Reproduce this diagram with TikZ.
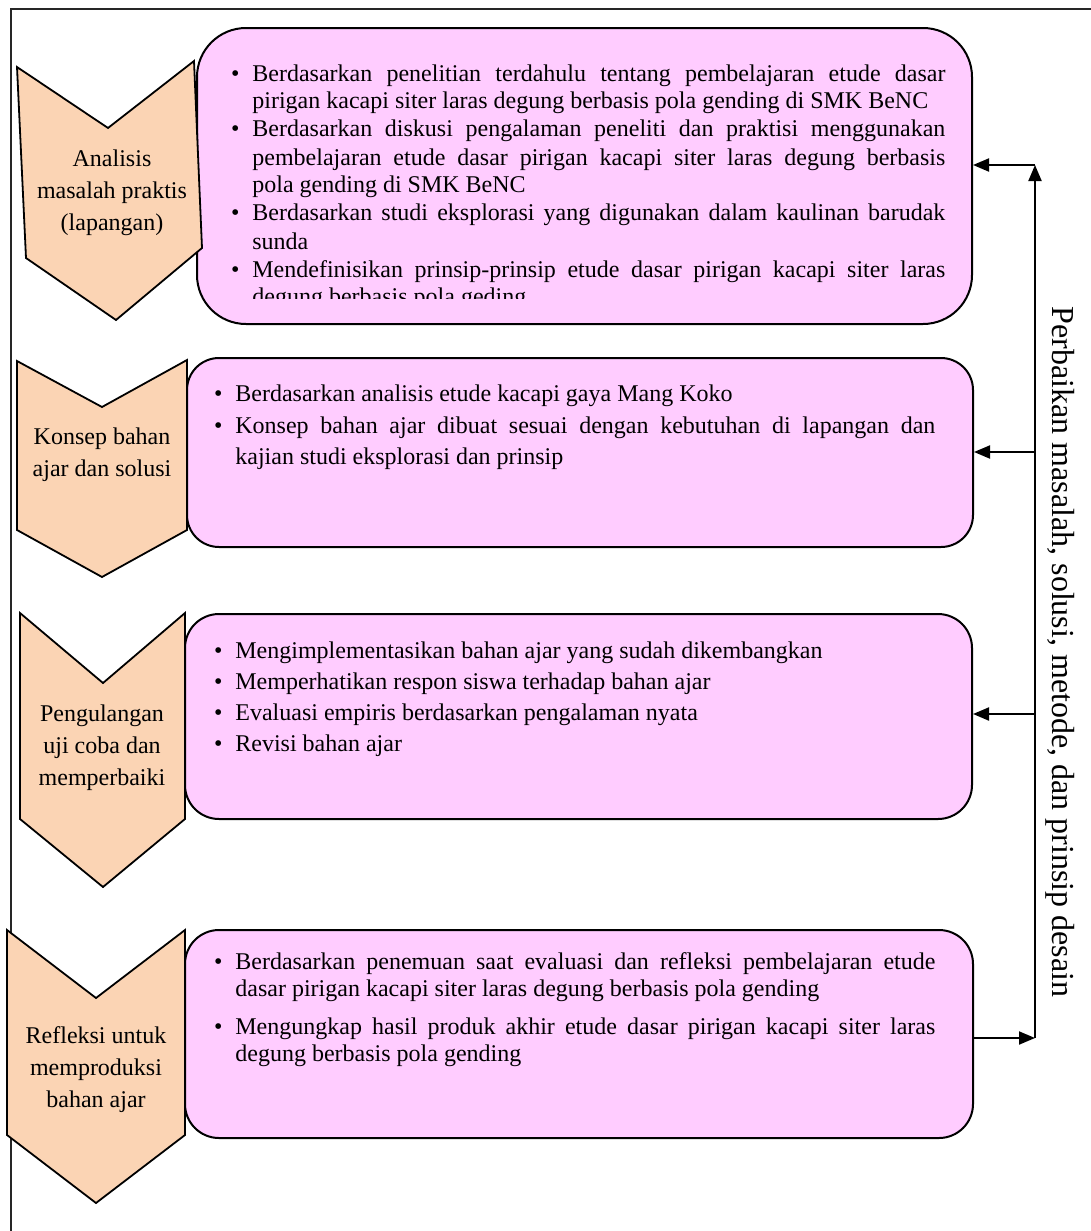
\documentclass[tikz,border=0pt]{standalone}
\usepackage{fontspec}
\setmainfont{Liberation Serif}
\usetikzlibrary{fit,arrows.meta}
\definecolor{pinkfill}{HTML}{FFCCFF}
\definecolor{peach}{HTML}{FBD4B4}
\newcommand\bitem{\par\noindent\llap{\textbullet\hspace{6.5pt}}}
\newcommand\parset{\tolerance=10000\hyphenpenalty=10000\exhyphenpenalty=10000\parindent=0pt\parskip=0pt}
\begin{document}
\begin{tikzpicture}[x=0.5pt,y=-0.5pt,
  pinkbox/.style={draw=black, line width=1pt, fill=pinkfill, inner sep=0pt},
  chev/.style={draw=black, line width=0.9pt, fill=peach, line join=miter},
  chevtext/.style={align=center, font=\fontsize{12}{16}\selectfont, inner sep=0pt},
  bodytxt/.style={anchor=north west, inner sep=0pt, align=justify, text width=#1},
  arr/.style={line width=1pt, -{Triangle[length=8pt,width=6.5pt]}},
]
\useasboundingbox (0,0) rectangle (1091,1231);
% frame
\draw[line width=0.9pt, black!85] (11,1231) -- (11,9) -- (1091,9);

% boxes
\node[pinkbox, rounded corners=24.5pt, fit={(197,28) (972,324)}] (b1) {};
\node[pinkbox, rounded corners=16pt, fit={(187,358) (973,547)}] (b2) {};
\node[pinkbox, rounded corners=17pt, fit={(185,614) (972,819)}] (b3) {};
\node[pinkbox, rounded corners=17pt, fit={(185,930) (973,1138)}] (b4) {};

% chevrons
\draw[chev] (17,67) -- (108,128) -- (194,61) -- (202,248) -- (116,320) -- (26,258) -- cycle;
\draw[chev] (17,361) -- (102,407) -- (187,360) -- (187,530) -- (102,577) -- (17,530) -- cycle;
\draw[chev] (20,613) -- (103,683) -- (185,613) -- (185,819) -- (103,887) -- (20,819) -- cycle;
\draw[chev] (7,930) -- (96,998) -- (185,930) -- (185,1135) -- (96,1203) -- (7,1135) -- cycle;

\node[chevtext] (c1) at (112,193) {Analisis\\masalah praktis\\(lapangan)};
\node[chevtext] (c2) at (102,455) {Konsep bahan\\ajar dan solusi};
\node[chevtext] (c3) at (102,748) {Pengulangan\\uji coba dan\\memperbaiki};
\node[chevtext] (c4) at (96,1070) {Refleksi untuk\\memproduksi\\bahan ajar};

% box texts
\begin{scope}
\clip (190,20) rectangle (980,298);
\node[bodytxt=346.5pt, font=\fontsize{12}{14}\selectfont\parset] (t1) at (252,52.6) {%
\bitem Berdasarkan penelitian terdahulu tentang pembelajaran etude dasar\linebreak pirigan kacapi siter laras degung berbasis pola gending di SMK BeNC
\bitem Berdasarkan diskusi pengalaman peneliti dan praktisi menggunakan\linebreak pembelajaran etude dasar pirigan kacapi siter laras degung berbasis\linebreak pola gending di SMK BeNC
\bitem Berdasarkan studi eksplorasi yang digunakan dalam kaulinan barudak\linebreak sunda
\bitem Mendefinisikan prinsip-prinsip etude dasar pirigan kacapi siter laras\linebreak degung berbasis pola geding};
\end{scope}

\node[bodytxt=350pt, font=\fontsize{12}{15.75}\selectfont\parset] (t2) at (235,369.6) {%
\bitem Berdasarkan analisis etude kacapi gaya Mang Koko
\bitem Konsep bahan ajar dibuat sesuai dengan kebutuhan di lapangan dan\linebreak kajian studi eksplorasi dan prinsip};

\node[bodytxt=350pt, font=\fontsize{12}{15.5}\selectfont\parset] (t3) at (235,626.6) {%
\bitem Mengimplementasikan bahan ajar yang sudah dikembangkan
\bitem Memperhatikan respon siswa terhadap bahan ajar
\bitem Evaluasi empiris berdasarkan pengalaman nyata
\bitem Revisi bahan ajar};

\node[bodytxt=350pt, font=\fontsize{12}{13.5}\selectfont\parset] (t4) at (235,942) {%
\bitem Berdasarkan penemuan saat evaluasi dan refleksi pembelajaran etude\linebreak dasar pirigan kacapi siter laras degung berbasis pola gending
\par\vspace{5.5pt}
\bitem Mengungkap hasil produk akhir etude dasar pirigan kacapi siter laras\linebreak degung berbasis pola gending};

% feedback loop
\coordinate (vt) at (1035,165);
\coordinate (v2) at (1035,452);
\coordinate (v3) at (1035,714);
\coordinate (vb) at (1035,1038);
\draw[arr] (vb) -- (vt);
\draw[arr] (vt) -- (vt -| b1.east);
\draw[arr] (v2) -- (v2 -| b2.east);
\draw[arr] (v3) -- (v3 -| b3.east);
\draw[arr] (vb -| b4.east) -- (vb);

\node[rotate=-90, font=\fontsize{16}{19}\selectfont, inner sep=0pt] (vtxt) at (1060,652) {Perbaikan masalah, solusi, metode, dan prinsip desain};
\end{tikzpicture}
\end{document}
